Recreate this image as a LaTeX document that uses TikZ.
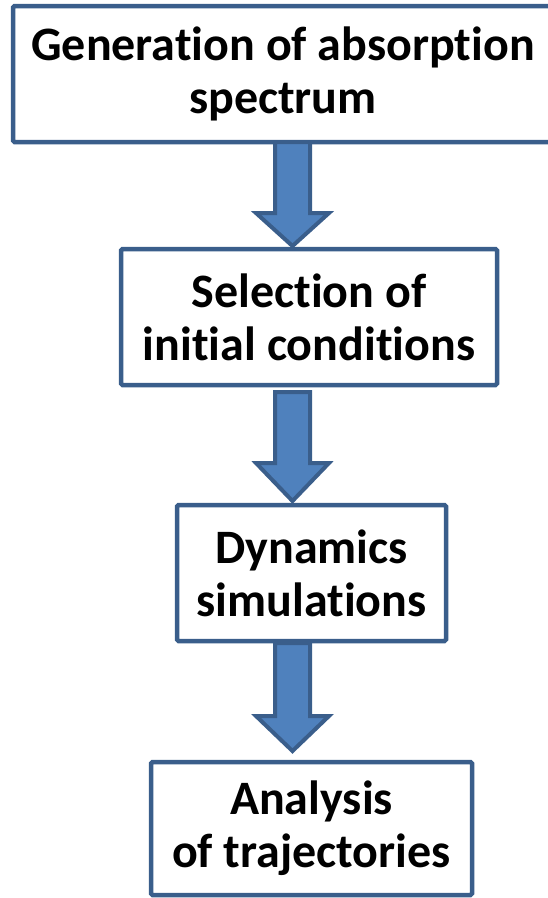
\documentclass[tikz,border=0pt]{standalone}
\usepackage{fontspec}
\setmainfont{Carlito}[Ligatures={NoCommon}]
\usetikzlibrary{calc}
\definecolor{boxline}{RGB}{58,94,139}
\definecolor{arrfill}{RGB}{79,129,189}
\begin{document}
\begin{tikzpicture}[x=1pt, y=-1pt,
  stage/.style={rectangle, rounded corners=1.5pt, draw=boxline, line width=4.5pt, fill=white,
               inner sep=0pt, outer sep=0pt, align=center,
               font=\bfseries\fontsize{48}{53}\selectfont},
  blockarr/.style={draw=boxline, fill=arrfill, line width=4pt, line join=miter}
]
\useasboundingbox (0,0) rectangle (548,898);
\coordinate (ax) at (292.5,0);
% boxes, then arrows between them
\node[stage, minimum width=540pt, minimum height=136pt] (gen) at (283,74)
  {Generation of absorption\\spectrum};
\node[stage, minimum width=376pt, minimum height=136pt] (sel) at (309,317)
  {Selection of\\initial conditions};
\node[stage, minimum width=269pt, minimum height=136pt] (dyn) at (311.5,573)
  {Dynamics\\simulations};
\node[stage, minimum width=321pt, minimum height=133pt] (ana) at (311.5,828.5)
  {Analysis\\of trajectories};
\draw[blockarr] ($(gen.south -| ax)+(-17.5,0)$) -- ++(35,0) -- ++(0,71) -- ++(19,0)
  -- ($(sel.north -| ax)+(0,-3)$) -- ++(-36.5,-33) -- ++(19,0) -- cycle;
\draw[blockarr] ($(sel.south -| ax)+(-17.5,7)$) -- ++(35,0) -- ++(0,71) -- ++(19,0)
  -- ($(dyn.north -| ax)+(0,-4)$) -- ++(-36.5,-38) -- ++(19,0) -- cycle;
\draw[blockarr] ($(dyn.south -| ax)+(-17.5,2)$) -- ++(35,0) -- ++(0,73) -- ++(19,0)
  -- ($(ana.north -| ax)+(0,-11)$) -- ++(-36.5,-35) -- ++(19,0) -- cycle;
\end{tikzpicture}
\end{document}
